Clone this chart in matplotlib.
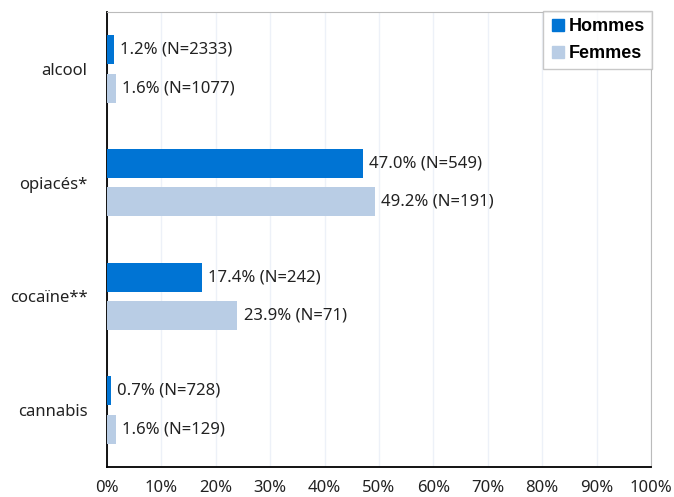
import matplotlib
matplotlib.use("Agg")
import matplotlib.pyplot as plt
import numpy as np
from matplotlib.lines import Line2D

categories = ["alcool", "opiacés*", "cocaïne**", "cannabis"]
hommes = [1.2, 47.0, 17.4, 0.7]
femmes = [1.6, 49.2, 23.9, 1.6]
n_hommes = [2333, 549, 242, 728]
n_femmes = [1077, 191, 71, 129]
xticks = list(range(0, 101, 10))

plt.rcParams['font.family'] = ['Noto Sans', 'DejaVu Sans']

c_h = "#0074D4"
c_f = "#B9CDE5"
fs = 12

fig = plt.figure(figsize=(6.74, 4.97), dpi=100)
ax = fig.add_axes([107/674, 1-467/497, (651-107)/674, (467-12)/497])

y = np.arange(len(categories))
bh = 0.255
off = 0.17
ax.barh(y - off, hommes, height=bh, color=c_h, zorder=3)
ax.barh(y + off, femmes, height=bh, color=c_f, zorder=3)

for i in range(len(categories)):
    ax.text(hommes[i] + 1.2, y[i] - off, f"{hommes[i]:.1f}% (N={n_hommes[i]})",
            va="center", ha="left", fontsize=fs, color="#222222")
    ax.text(femmes[i] + 1.2, y[i] + off, f"{femmes[i]:.1f}% (N={n_femmes[i]})",
            va="center", ha="left", fontsize=fs, color="#222222")

ax.set_ylim(len(categories) - 0.5, -0.5)
ax.set_xlim(0, 100)
ax.set_yticks(y)
ax.set_yticklabels(categories, fontsize=fs, color="#222222")
ax.set_xticks(xticks)
ax.set_xticklabels([f"{t}%" for t in xticks], fontsize=fs, color="#222222")
ax.tick_params(axis="both", length=0)
ax.tick_params(axis="x", pad=9)
ax.tick_params(axis="y", pad=14)
ax.grid(axis="x", color="#EDF1F8", linewidth=1, zorder=0)
ax.set_axisbelow(True)

for s in ["top", "right"]:
    ax.spines[s].set_color("#BBBBBB")
for s in ["left", "bottom"]:
    ax.spines[s].set_color("black")
    ax.spines[s].set_linewidth(1.3)

handles = [Line2D([], [], marker="s", color=c_h, linestyle="none", markersize=9),
           Line2D([], [], marker="s", color=c_f, linestyle="none", markersize=9)]
leg = fig.legend(handles, ["Hommes", "Femmes"], loc="upper right",
                 bbox_to_anchor=(652/674, 1-11/497), frameon=True, fancybox=False,
                 prop={"family": "Liberation Sans", "weight": "bold", "size": 13},
                 handlelength=0.8, handletextpad=0.2, borderpad=0.4,
                 labelspacing=0.55, borderaxespad=0)
leg.get_frame().set_edgecolor("#BBBBBB")
leg.get_frame().set_linewidth(1)

fig.savefig("out.png", dpi=100)
